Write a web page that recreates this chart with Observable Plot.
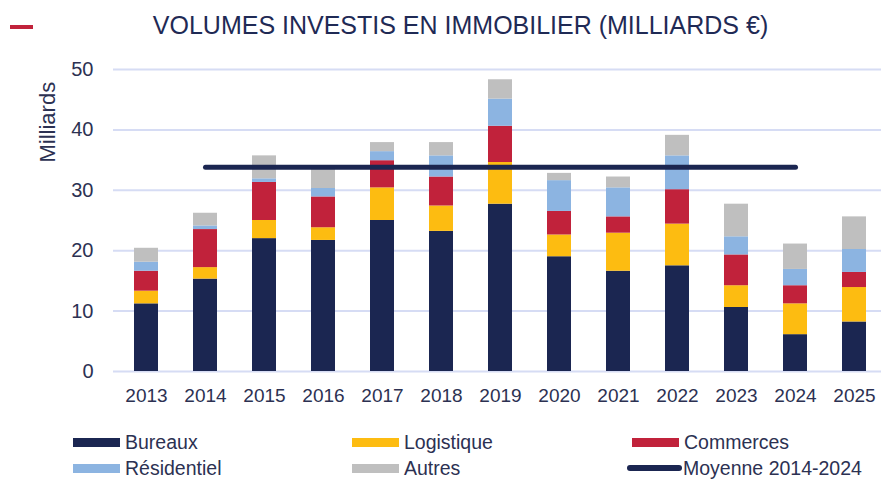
<!DOCTYPE html>
<html><head><meta charset="utf-8">
<script src="https://cdn.jsdelivr.net/npm/d3@7"></script>
<script src="https://cdn.jsdelivr.net/npm/@observablehq/plot@0.6"></script>
<style>
body{margin:0;background:#fff;font-family:"Liberation Sans",Arial,sans-serif;}
#wrap{position:relative;width:881px;height:480px;overflow:hidden;background:#fff;}
#dash{position:absolute;left:10px;top:25px;width:23px;height:4px;background:#c1223b;}
#title{position:absolute;left:460.5px;top:13px;transform:translateX(-50%);white-space:nowrap;font-size:25px;line-height:25px;color:#1f2a55;}
#chart{position:absolute;left:0;top:50px;}
.lg{position:absolute;height:26px;display:flex;align-items:center;font-size:19.5px;color:#2c3152;white-space:nowrap;}
.sw{width:47px;height:9px;margin-right:5px;}
.ln{width:55px;height:5.5px;border-radius:3px;margin-right:1px;}
</style></head><body>
<div id="wrap">
 <div id="dash"></div>
 <div id="title">VOLUMES INVESTIS EN IMMOBILIER (MILLIARDS €)</div>
 <div id="chart"></div>
 <div id="legend"></div>
</div>
<script>
const years = ["2013","2014","2015","2016","2017","2018","2019","2020","2021","2022","2023","2024","2025"];
const bureaux     = [11.2, 15.3, 22.0, 21.7, 25.0, 23.2, 27.7, 19.0, 16.6, 17.5, 10.6, 6.1, 8.2];
const logistique  = [ 2.1,  1.9,  3.0,  2.1,  5.4,  4.2,  6.9,  3.6,  6.3,  6.9,  3.6, 5.1, 5.7];
const commerces   = [ 3.3,  6.3,  6.3,  5.1,  4.5,  4.8,  6.0,  3.9,  2.7,  5.7,  5.1, 3.0, 2.5];
const residentiel = [ 1.5,  0.6,  0.6,  1.4,  1.5,  3.5,  4.5,  5.1,  4.8,  5.6,  3.0, 2.7, 3.8];
const autres      = [ 2.3,  2.1,  3.8,  3.3,  1.5,  2.2,  3.2,  1.2,  1.8,  3.4,  5.4, 4.2, 5.4];
const seriesNames = ["Bureaux","Logistique","Commerces","Résidentiel","Autres"];
const seriesColors = ["#1b2651","#fdbc11","#c1223b","#8cb4e1","#bfbfbf"];
const seriesValues = [bureaux, logistique, commerces, residentiel, autres];
const avgLabel = "Moyenne 2014-2024";
const avgYears = ["2014","2015","2016","2017","2018","2019","2020","2021","2022","2023","2024"];
const avgValue = 33.8;
const yTicks = [0,10,20,30,40,50];
const lineColor = "#1b2651";

const table = seriesNames.flatMap((name,i)=> years.map((yr,j)=>({year:yr, type:name, value:seriesValues[i][j]})));
const avgTable = avgYears.map(y=>({year:y, value:avgValue}));

const chart = Plot.plot({
  width:881, height:370, marginLeft:113, marginRight:0, marginTop:19, marginBottom:49,
  style:{fontFamily:"Liberation Sans, Arial, sans-serif", color:"#2c3152", background:"transparent"},
  x:{domain:years, range:[114.3,885.6], paddingInner:0.6, paddingOuter:0.3, label:null},
  y:{domain:[0,50], label:null},
  color:{domain:seriesNames, range:seriesColors},
  marks:[
    Plot.gridY(yTicks, {stroke:"#d6dcf4", strokeOpacity:1, strokeWidth:2}),
    Plot.barY(table, {x:"year", y:"value", fill:"type", order:seriesNames}),
    Plot.lineY(avgTable, {x:"year", y:"value", stroke:lineColor, strokeWidth:5, strokeLinecap:"round"}),
    Plot.axisX({tickSize:0, tickPadding:17, fontSize:19, label:null}),
    Plot.axisY(yTicks, {tickSize:0, tickPadding:20, fontSize:20, label:null}),
    Plot.text(["Milliards"], {frameAnchor:"top-left", dx:-65.5, dy:52.7, rotate:-90, fontSize:22, fill:"#2c3152", textAnchor:"middle", lineAnchor:"middle"})
  ]
});
document.getElementById("chart").appendChild(chart);

const legend = document.getElementById("legend");
const cols = [73, 352, 632];
const rows = [429, 455];
const items = seriesNames.map((n,i)=>({name:n, color:seriesColors[i], line:false}));
items.push({name:avgLabel, color:lineColor, line:true});
items.forEach((it,i)=>{
  const d = document.createElement("div");
  d.className = "lg";
  d.style.left = (it.line ? cols[i%3]-5 : cols[i%3]) + "px";
  d.style.top = rows[Math.floor(i/3)] + "px";
  const s = document.createElement("div");
  s.className = it.line ? "ln" : "sw";
  s.style.background = it.color;
  d.appendChild(s);
  const t = document.createElement("span");
  t.textContent = it.name;
  d.appendChild(t);
  legend.appendChild(d);
});
</script>
</body></html>
